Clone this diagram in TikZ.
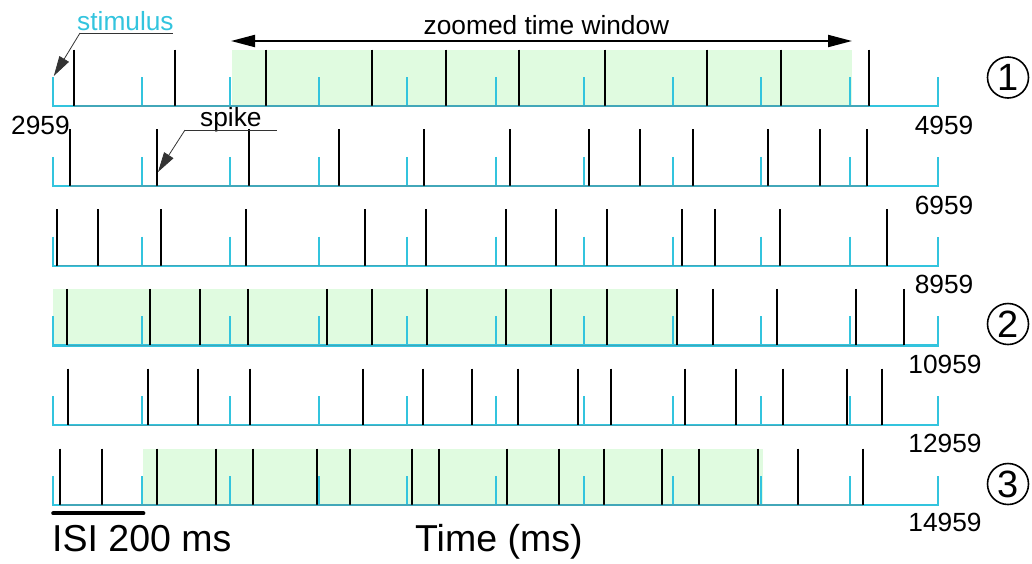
\documentclass[tikz,border=0pt]{standalone}
\usepackage{fontspec}
\setmainfont{Liberation Sans}
\usetikzlibrary{arrows.meta}
\definecolor{stimcyan}{RGB}{51,196,222}
\definecolor{zoomgreen}{RGB}{224,251,224}
\begin{document}
\begin{tikzpicture}[x=1pt,y=-1pt,
  spk/.style={line width=2pt, black},
  stim/.style={line width=2pt, stimcyan},
  base/.style={line width=2.2pt, stimcyan, line join=miter},
  under/.style={line width=1.4pt, black!60, opacity=0.3},
  zoombox/.style={fill=zoomgreen, draw=none},
  lbl/.style={font=\fontsize{26.3}{30}\selectfont, inner sep=0pt},
  biglbl/.style={font=\fontsize{37.5}{40}\selectfont, inner sep=0pt, anchor=base west},
  leader/.style={line width=0.8pt, black!80},
  ptr/.style={leader, -{Triangle[length=20pt,width=11pt]}},
  circnum/.style={circle, draw, line width=1.6pt, minimum size=41pt, inner sep=0pt, font=\fontsize{38}{38}\selectfont}
]
\useasboundingbox (0,0) rectangle (1032,563);

% zoomed windows
\fill[zoombox] (231.7,49.5) rectangle (851.7,106);
\fill[zoombox] (53.3,289.3) rectangle (675.7,345.7);
\fill[zoombox] (142.7,449.3) rectangle (763.3,505);

% rows
\foreach \r/\sp in {
  0/{74,175,266,372,446,519,605,707,781,869},
  1/{70,157,249,339,424,510,589,640,693,768,820,867},
  2/{57,98,161,246,365,426,506,556,607,682,715,780,887},
  3/{67,150,200,248,327,372,427,506,551,607,677,713,777,856,904},
  4/{68,148,198,250,363,423,472,518,578,611,685,736,783,847,882},
  5/{60,102,157,216,253,317,350,412,439,507,559,604,662,699,758,798,863}}{
  \pgfmathsetmacro{\yb}{106+79.8*\r}
  \draw[base] (53.3,\yb-29) -- (53.3,\yb) -- (938.3,\yb) -- (938.3,\yb-29);
  \foreach \k in {1,...,9}{
    \draw[stim] ({53.3+88.5*\k},\yb-29) -- ({53.3+88.5*\k},\yb);
  }
  \foreach \s in \sp{
    \draw[spk] (\s,\yb-56.5) -- (\s,\yb);
  }
}
\draw[under] (74,106) -- (869,106);
\draw[under] (70,185.8) -- (867,185.8);
\draw[under] (57,265.6) -- (887,265.6);
\draw[under] (67,345.4) -- (904,345.4);
\draw[under] (68,425.2) -- (882,425.2);
\draw[under] (60,505) -- (863,505);

% time labels
\node[lbl, anchor=base west] (t0) at (11,134) {2959};
\node[lbl, anchor=base] (t1) at (944,134) {4959};
\node[lbl, anchor=base] (t2) at (944,214) {6959};
\node[lbl, anchor=base] (t3) at (944,293.5) {8959};
\node[lbl, anchor=base] (t4) at (945,373.3) {10959};
\node[lbl, anchor=base] (t5) at (945,452.3) {12959};
\node[lbl, anchor=base] (t6) at (945,531.7) {14959};

% stimulus pointer
\node[lbl, anchor=base west, text=stimcyan] (stimlbl) at (77,30) {stimulus};
\coordinate (stimA) at (80,33);
\coordinate (stimB) at (173,33);
\coordinate (stimtip) at (53.8,76);
\draw[leader] (stimA) -- (stimB);
\draw[ptr] (stimA) -- (stimtip);

% spike pointer
\node[lbl, anchor=base west] (spklbl) at (200,126.7) {spike};
\coordinate (spkA) at (185,130);
\coordinate (spkB) at (277,130);
\coordinate (spktip) at (158,172);
\draw[leader] (spkA) -- (spkB);
\draw[ptr] (spkA) -- (spktip);

% zoomed time window
\coordinate (zl) at (231,41);
\coordinate (zr) at (852,41);
\draw[line width=2pt, {Triangle[length=24pt,width=12pt]}-{Triangle[length=24pt,width=12pt]}] (zl) -- (zr);
\node[lbl, anchor=base] (zlbl) at (546.5,34) {zoomed time window};

% scale bar and axis label
\coordinate (isiA) at (53.3,513.3);
\coordinate (isiB) at (143.3,513.3);
\draw[line width=4.2pt, line cap=round] (isiA) -- (isiB);
\node[biglbl] (isi) at (52,551.7) {ISI 200 ms};
\node[biglbl] (time) at (415,551.7) {Time (ms)};

% circled numbers
\node[circnum] (c1) at (1008,77.5) {1};
\node[circnum] (c2) at (1008,324) {2};
\node[circnum] (c3) at (1008,484) {3};
\end{tikzpicture}
\end{document}
